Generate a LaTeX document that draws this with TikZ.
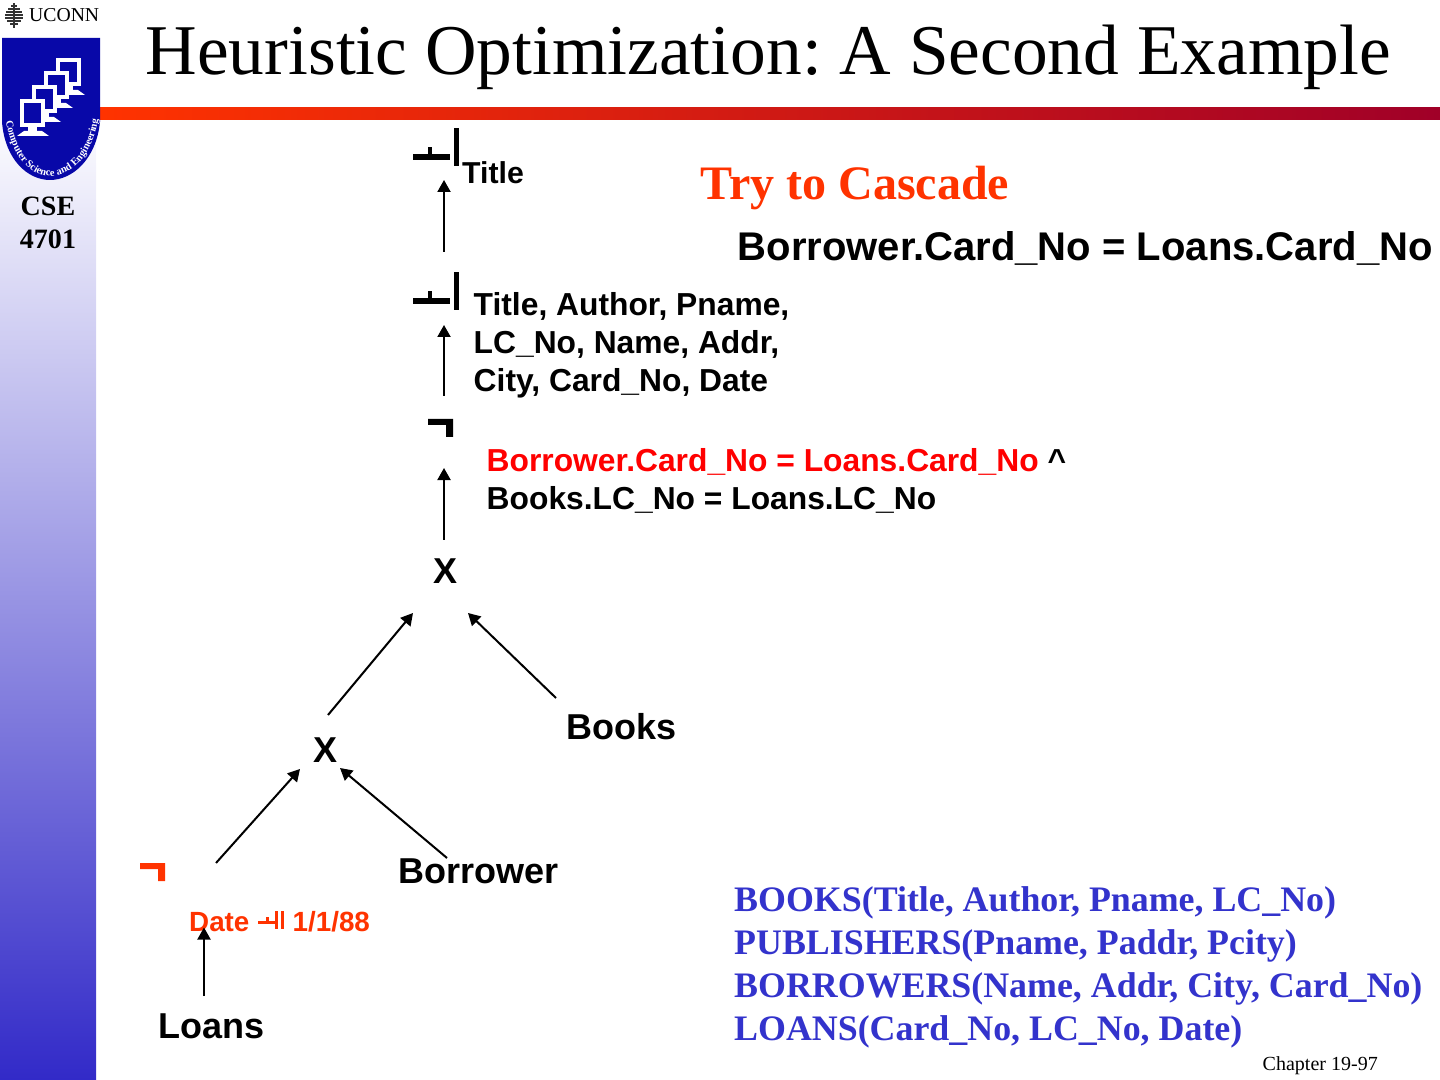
\documentclass[tikz,border=0pt]{standalone}
\usepackage{fontspec}
\setmainfont{Liberation Serif}
\setsansfont{Liberation Sans}
\usetikzlibrary{arrows.meta,decorations.text}
\definecolor{sidebarblue}{RGB}{50,42,200}
\definecolor{shieldblue}{RGB}{8,8,168}
\definecolor{cascade}{RGB}{255,51,0}
\definecolor{barend}{RGB}{160,0,40}
\definecolor{schemablue}{RGB}{51,51,204}
\tikzset{
  lbl/.style={inner sep=0pt,anchor=base west,font=\sffamily\bfseries\fontsize{10.24}{12.2}\selectfont},
  lblsmall/.style={inner sep=0pt,anchor=north west,align=left,font=\sffamily\bfseries\fontsize{9.04}{10.81}\selectfont},
  opmark/.style={inner sep=0pt,minimum size=0pt},
  arr/.style={->,line width=0.02cm},
}
\frenchspacing
\begin{document}
\begin{tikzpicture}[x=0.01cm,y=-0.01cm,>={Triangle[length=0.12cm,width=0.13cm]}]
  \useasboundingbox (0,0) rectangle (1440,1080);
  % side bar and rule
  \shade[top color=white,bottom color=sidebarblue] (0,110) rectangle (96,1080);
  \shade[left color=cascade,right color=barend] (100,108) rectangle (1440,120);
  % logo
  \fill[shieldblue] (2,38) -- (100,38) -- (100,122) .. controls (96,160) and (72,180) .. (50,180) .. controls (28,180) and (5,160) .. (2,122) -- cycle;
  \foreach \mx/\my in {56/58,44/71,32/85,20/99}{
    \fill[white] (\mx,\my) rectangle ++(25,28);
    \fill[shieldblue] (\mx+4,\my+4) rectangle ++(17,20);
    \fill[white] (\mx+8,\my+28) rectangle ++(9,4);
    \fill[white] (\mx+4,\my+32) -- ++(18,0) -- ++(7,5) -- ++(-32,0) -- cycle;
  }
  \path[decorate,decoration={text along path,text align=center,text={|\color{white}\bfseries\fontsize{2.95}{3.6}\selectfont|Computer Science and Engineering}}]
    (6,122) .. controls (12,156) and (30,176) .. (50,176) .. controls (72,176) and (92,156) .. (98,120);
  \foreach \ty/\tw in {5/3,8/6,11/8,14/9,17/9,20/7,23/4}{
    \fill[black!80] (14-\tw,\ty) rectangle (13,\ty+2.2);
    \fill[black!80] (15,\ty) rectangle (14+\tw,\ty+2.2);
  }
  \fill[black!80] (13,3) rectangle (15,28);
  \node[inner sep=0pt,anchor=base west,font=\fontsize{5.6}{6}\selectfont] (uconn) at (28.5,22) {UCONN};
  \node[inner sep=0pt,anchor=base,font=\bfseries\fontsize{7.97}{9.4}\selectfont] (cse) at (48,216) {CSE};
  \node[inner sep=0pt,anchor=base,font=\bfseries\fontsize{7.97}{9.4}\selectfont] (course) at (48,249) {4701};
  % heading
  \node[inner sep=0pt,anchor=base west,font=\fontsize{20.3}{24}\selectfont] (heading) at (145,75) {Heuristic Optimization: A Second Example};
  \node[inner sep=0pt,anchor=base west,text=cascade,font=\bfseries\fontsize{13.66}{16}\selectfont] (cascadehd) at (700,200) {Try to Cascade};
  \node[lbl,font=\sffamily\bfseries\fontsize{11.38}{13}\selectfont] (cascadecond) at (737,261) {Borrower.Card\_No = Loans.Card\_No};
  % operators
  \node[opmark] (pione) at (444,148) {};
  \node[opmark] (pitwo) at (444,292) {};
  \node[opmark] (sigmaone) at (444,428) {};
  \node[opmark] (sigmatwo) at (156,872) {};
  \foreach \n in {pione,pitwo}{
    \fill ([shift={(9.5,-20)}]\n.center) rectangle ([shift={(15,18)}]\n.center);
    \fill ([shift={(-31,6)}]\n.center) rectangle ([shift={(6,12)}]\n.center);
    \fill ([shift={(-16,-1)}]\n.center) rectangle ([shift={(-12,6)}]\n.center);
  }
  \fill ([shift={(-16,-9)}]sigmaone.center) -- ++(25,0) -- ++(0,18) -- ++(-7,0) -- ++(0,-12) -- ++(-18,0) -- cycle;
  \fill[cascade] ([shift={(-16,-9)}]sigmatwo.center) -- ++(25,0) -- ++(0,18) -- ++(-7,0) -- ++(0,-12) -- ++(-18,0) -- cycle;
  \node[lbl,font=\sffamily\bfseries\fontsize{8.6}{10}\selectfont] (titleattr) at (461.5,184) {Title};
  \node[lblsmall] (attrs) at (473,292) {Title, Author, Pname,\\LC\_No, Name, Addr,\\City, Card\_No, Date};
  \node[lblsmall] (joincond) at (486,448) {\textcolor{red}{Borrower.Card\_No = Loans.Card\_No} \^{}\\Books.LC\_No = Loans.LC\_No};
  \node[lbl,anchor=base] (xone) at (446,584) {X};
  \node[lbl,anchor=base] (xtwo) at (326,762) {X};
  \node[lbl] (books) at (566,739) {Books};
  \node[lbl] (borrower) at (398,883) {Borrower};
  \node[lbl] (loans) at (158,1038) {Loans};
  \node[lbl,text=cascade,font=\sffamily\bfseries\fontsize{7.9}{9.4}\selectfont] (datename) at (188.5,931.5) {Date};
  \node[lbl,text=cascade,font=\sffamily\bfseries\fontsize{7.9}{9.4}\selectfont] (datevalue) at (292,931.5) {1/1/88};
  \fill[cascade] (258,920.5) rectangle (275,924);
  \fill[cascade] (265.5,917) rectangle (268.5,921);
  \fill[cascade] (275,911) rectangle (278,929);
  \fill[cascade] (280.5,911) rectangle (283.5,929);
  % tree
  \draw[arr] ([shift={(0,-40)}]pitwo.center) -- ([shift={(0,32)}]pione.center);
  \draw[arr] ([shift={(0,-32)}]sigmaone.center) -- ([shift={(0,33)}]pitwo.center);
  \draw[arr] ([shift={(-2,-44)}]xone.base) -- ([shift={(0,40)}]sigmaone.center);
  \draw[arr] ([shift={(2,-47)}]xtwo.base) -- ([shift={(-33,29)}]xone.base);
  \draw[arr] ([shift={(-10,-41)}]books.base west) -- ([shift={(22,29)}]xone.base);
  \draw[arr] ([shift={(60,-9)}]sigmatwo.center) -- ([shift={(-26,7)}]xtwo.base);
  \draw[arr] ([shift={(49,-25)}]borrower.base west) -- ([shift={(14,6)}]xtwo.base);
  \draw[arr] ([shift={(46,-42)}]loans.base west) -- ([shift={(15.5,-4)}]datename.base west);
  % schema
  \node[inner sep=0pt,anchor=north west,align=left,text=schemablue,font=\bfseries\fontsize{10.2}{12.23}\selectfont] (schema) at (733.5,886) {BOOKS(Title, Author, Pname, LC\_No)\\PUBLISHERS(Pname, Paddr, Pcity)\\BORROWERS(Name, Addr, City, Card\_No)\\LOANS(Card\_No, LC\_No, Date)};
  \node[inner sep=0pt,anchor=base west,font=\fontsize{5.69}{7}\selectfont] (chapter) at (1262,1070) {Chapter 19-97};
\end{tikzpicture}
\end{document}
